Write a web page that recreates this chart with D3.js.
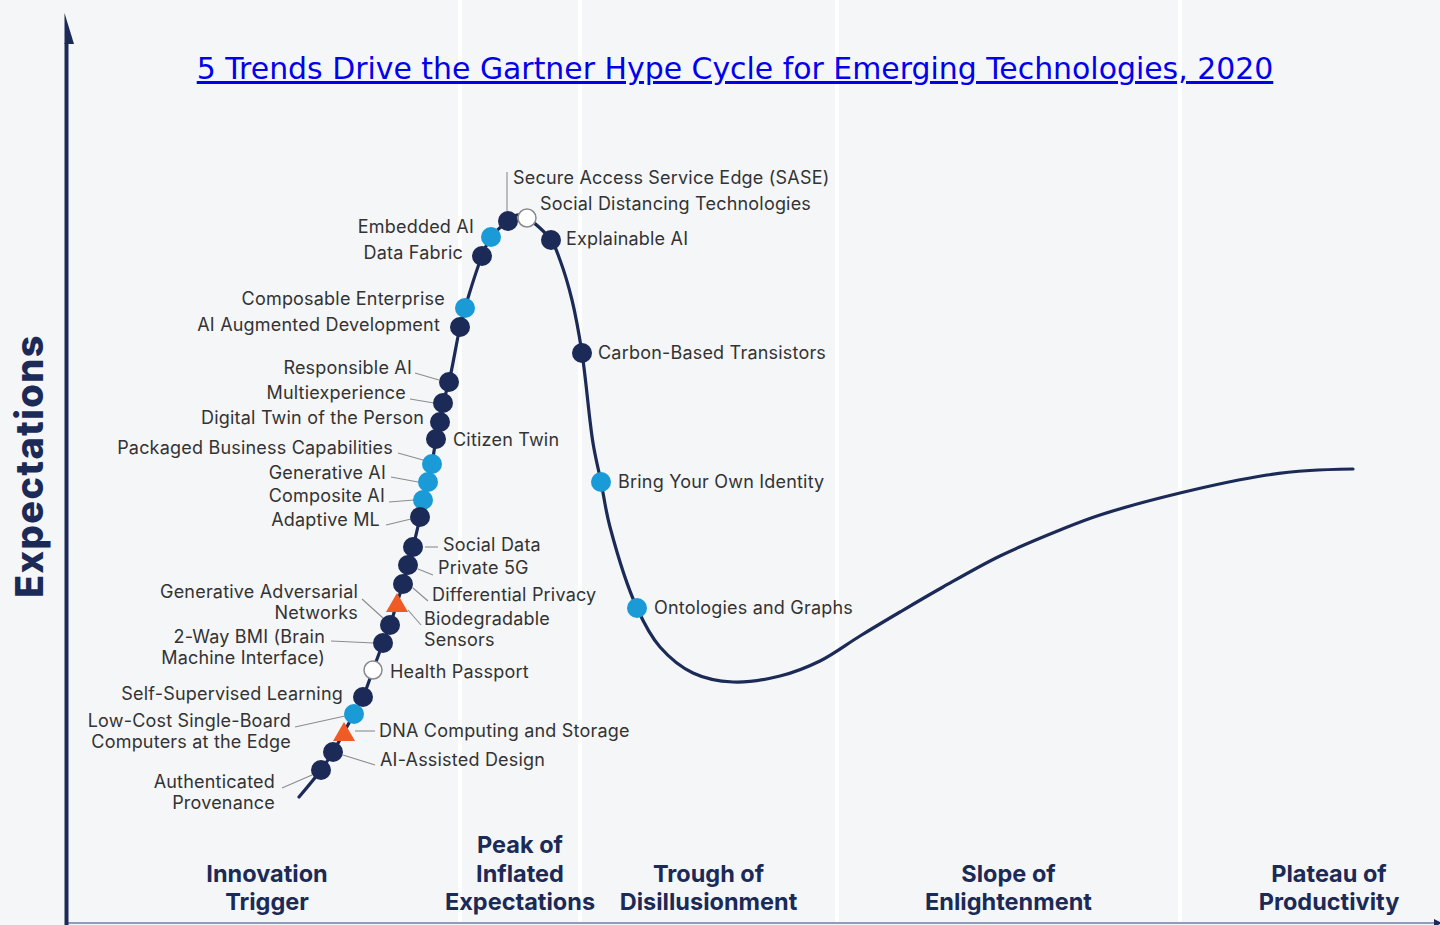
<!DOCTYPE html>
<html>
<head>
<meta charset="utf-8">
<script src="https://cdn.jsdelivr.net/npm/d3@7"></script>
<style>
html, body { margin: 0; padding: 0; background: #f5f6f8; }
svg { display: block; }
</style>
</head>
<body>
<svg id="chart" width="1440" height="925"></svg>
<script>
// hype curve, time vs expectations (arbitrary units)
const curveTime = [23.3, 25.5, 26.7, 27.8, 28.8, 29.7, 30.7, 31.7, 32.4, 33.1, 33.7, 34.2, 34.7, 35.4, 35.7, 36.2, 36.6, 37.0, 37.4, 37.7, 38.3, 39.4, 39.9, 41.6, 42.5, 44.2, 45.1, 46.1, 48.5, 49.4, 50.6, 51.6, 52.7, 53.5, 54.4, 57.1, 59.4, 62.7, 66.7, 71.4, 75.4, 79.4, 83.4, 87.7, 93.4, 99.4, 103.4, 111.4, 120.1, 124.4, 128.7]
const curveExpect = [12.6, 15.3, 17.1, 19.1, 20.9, 22.6, 25.3, 28.0, 29.8, 32.0, 33.9, 35.8, 37.6, 40.6, 42.3, 44.1, 45.9, 48.4, 50.1, 52.0, 54.1, 59.6, 61.5, 66.7, 68.6, 70.2, 70.8, 70.5, 68.3, 66.3, 62.3, 57.0, 48.0, 44.1, 39.6, 31.5, 27.6, 25.0, 24.1, 24.7, 26.2, 28.7, 31.1, 33.6, 36.7, 39.3, 40.8, 43.0, 44.8, 45.25, 45.4]

// technologies on the curve
const techNames = ['Secure Access Service Edge (SASE)', 'Social Distancing Technologies', 'Explainable AI', 'Embedded AI', 'Data Fabric', 'Composable Enterprise', 'AI Augmented Development', 'Carbon-Based Transistors', 'Responsible AI', 'Multiexperience', 'Digital Twin of the Person', 'Citizen Twin', 'Packaged Business Capabilities', 'Generative AI', 'Composite AI', 'Adaptive ML', 'Bring Your Own Identity', 'Social Data', 'Private 5G', 'Differential Privacy', 'Biodegradable Sensors', 'Generative Adversarial Networks', '2-Way BMI (Brain Machine Interface)', 'Health Passport', 'Self-Supervised Learning', 'Low-Cost Single-Board Computers at the Edge', 'DNA Computing and Storage', 'AI-Assisted Design', 'Authenticated Provenance', 'Ontologies and Graphs']
const techTime = [44.2, 46.1, 48.5, 42.5, 41.6, 39.9, 39.4, 51.6, 38.3, 37.7, 37.4, 37.0, 36.6, 36.2, 35.7, 35.4, 53.5, 34.7, 34.2, 33.7, 33.1, 32.4, 31.7, 30.7, 29.7, 28.8, 27.8, 26.7, 25.5, 57.1]
const techExpect = [70.2, 70.5, 68.3, 68.6, 66.7, 61.5, 59.6, 57.0, 54.1, 52.0, 50.1, 48.4, 45.9, 44.1, 42.3, 40.6, 44.1, 37.6, 35.8, 33.9, 32.0, 29.8, 28.0, 25.3, 22.6, 20.9, 19.1, 17.1, 15.3, 31.5]
// years to plateau class: 'a' dark, 'b' blue, 'c' white, 'd' triangle
const techKind = ['a', 'c', 'a', 'b', 'a', 'b', 'a', 'a', 'a', 'a', 'a', 'a', 'b', 'b', 'b', 'a', 'b', 'a', 'a', 'a', 'd', 'a', 'a', 'c', 'a', 'b', 'd', 'a', 'a', 'b']

const phaseNames = [['Innovation', 'Trigger'], ['Peak of', 'Inflated', 'Expectations'], ['Trough of', 'Disillusionment'], ['Slope of', 'Enlightenment'], ['Plateau of', 'Productivity']]
const phaseBounds = [0.8, 39.4, 51.4, 77.1, 111.4, 141.2]

const titleText = '5 Trends Drive the Gartner Hype Cycle for Emerging Technologies, 2020'

// label placement: anchor, offset from the marker, optional split lines and leader
const labelLayout = {
    'Secure Access Service Edge (SASE)': { a: 'start', dx: 5, dy: -43, lead: [-1, -10, -1, -49] },
    'Social Distancing Technologies': { a: 'start', dx: 13, dy: -14 },
    'Explainable AI': { a: 'start', dx: 15, dy: -1 },
    'Embedded AI': { a: 'end', dx: -17, dy: -10 },
    'Data Fabric': { a: 'end', dx: -19, dy: -3 },
    'Composable Enterprise': { a: 'end', dx: -20, dy: -9 },
    'AI Augmented Development': { a: 'end', dx: -20, dy: -2 },
    'Carbon-Based Transistors': { a: 'start', dx: 16, dy: 0 },
    'Responsible AI': { a: 'end', dx: -37, dy: -14, lead: [-34, -9, -10, -2] },
    'Multiexperience': { a: 'end', dx: -37, dy: -10, lead: [-33, -4, -9, 0] },
    'Digital Twin of the Person': { a: 'end', dx: -16, dy: -4 },
    'Citizen Twin': { a: 'start', dx: 17, dy: 1 },
    'Packaged Business Capabilities': { a: 'end', dx: -39, dy: -16, lead: [-34, -11, -9, -4] },
    'Generative AI': { a: 'end', dx: -42, dy: -9, lead: [-37, -5, -10, 0] },
    'Composite AI': { a: 'end', dx: -38, dy: -4, lead: [-34, 2, -9, 0] },
    'Adaptive ML': { a: 'end', dx: -40, dy: 3, lead: [-34, 8, -9, 2] },
    'Bring Your Own Identity': { a: 'start', dx: 17, dy: 0 },
    'Social Data': { a: 'start', dx: 30, dy: -2, lead: [12, 0, 25, 0] },
    'Private 5G': { a: 'start', dx: 30, dy: 3, lead: [10, 4, 25, 10] },
    'Differential Privacy': { a: 'start', dx: 29, dy: 11, lead: [10, 4, 25, 17] },
    'Biodegradable Sensors': { a: 'start', dx: 27, dy: 16, lines: ['Biodegradable', 'Sensors'], lead: [11, 7, 24, 22] },
    'Generative Adversarial Networks': { a: 'end', dx: -32, dy: -33, lines: ['Generative Adversarial', 'Networks'], lead: [-28, -26, -7, -7] },
    '2-Way BMI (Brain Machine Interface)': { a: 'end', dx: -58, dy: -6, lines: ['2-Way BMI (Brain', 'Machine Interface)'], lead: [-52, -2, -9, 0] },
    'Health Passport': { a: 'start', dx: 17, dy: 2 },
    'Self-Supervised Learning': { a: 'end', dx: -20, dy: -3 },
    'Low-Cost Single-Board Computers at the Edge': { a: 'end', dx: -63, dy: 7, lines: ['Low-Cost Single-Board', 'Computers at the Edge'], lead: [-59, 13, -9, 2] },
    'DNA Computing and Storage': { a: 'start', dx: 35, dy: -1, lead: [11, -1, 31, -1] },
    'AI-Assisted Design': { a: 'start', dx: 47, dy: 8, lead: [10, 3, 42, 13] },
    'Authenticated Provenance': { a: 'end', dx: -46, dy: 12, lines: ['Authenticated', 'Provenance'], lead: [-39, 18, -9, 5] },
    'Ontologies and Graphs': { a: 'start', dx: 17, dy: 0 }
}

const navy = '#1b2a56'
const kindFill = { a: navy, b: '#1a9bd7', c: '#ffffff', d: '#f05a24' }

const svg = d3.select('#chart')
const W = 1440, H = 925

const x = d3.scaleLinear().domain([0, 137]).range([66, 1436])
const y = d3.scaleLinear().domain([0, 90.8]).range([923, 15])

svg.append('rect')
    .attr('width', W)
    .attr('height', H)
    .attr('fill', '#f5f6f8')

// white phase separators
svg.selectAll('.sep')
    .data(phaseBounds.slice(1, -1))
    .enter()
    .append('rect')
    .attr('class', 'sep')
    .attr('x', d => x(d) - 2)
    .attr('y', 0)
    .attr('width', 4)
    .attr('height', y(0))
    .attr('fill', '#ffffff')

// title
svg.append('text')
    .attr('x', 735)
    .attr('y', 79)
    .attr('text-anchor', 'middle')
    .attr('font-family', 'DejaVu Sans')
    .attr('font-size', 29.9)
    .attr('fill', '#0000ee')
    .style('text-decoration', 'underline')
    .text(titleText)

// axes
svg.append('line')
    .attr('x1', x(0)).attr('x2', x(137))
    .attr('y1', y(0)).attr('y2', y(0))
    .attr('stroke', '#8e9bbb')
    .attr('stroke-width', 2)
svg.append('path')
    .attr('d', `M${x(137) - 2},${y(0) - 4}L${x(137) + 6},${y(0)}L${x(137) - 2},${y(0) + 4}Z`)
    .attr('fill', navy)
svg.append('line')
    .attr('x1', x(0) + 0.5).attr('x2', x(0) + 0.5)
    .attr('y1', y(88)).attr('y2', H)
    .attr('stroke', navy)
    .attr('stroke-width', 4)
svg.append('path')
    .attr('d', `M${x(0) - 1.5},${y(90.8) - 2}L${x(0) + 8},${y(88) + 1}L${x(0) - 1.5},${y(88) + 1}Z`)
    .attr('fill', navy)

svg.append('text')
    .attr('transform', 'translate(29,466) rotate(-90)')
    .attr('text-anchor', 'middle')
    .attr('dominant-baseline', 'central')
    .attr('font-family', 'Inter, Roboto, sans-serif')
    .attr('font-weight', 800)
    .attr('font-size', 38)
    .attr('letter-spacing', 1.4)
    .attr('fill', navy)
    .text('Expectations')

// phase labels
phaseNames.forEach((lines, i) => {
    let cx = (x(phaseBounds[i]) + x(phaseBounds[i + 1])) / 2
    let t = svg.append('text')
        .attr('text-anchor', 'middle')
        .attr('font-family', 'Inter, Roboto, sans-serif')
        .attr('font-weight', 700)
        .attr('font-size', 23.5)
        .attr('fill', navy)
    lines.forEach((l, j) => {
        t.append('tspan')
            .attr('x', cx)
            .attr('y', 910 - (lines.length - 1 - j) * 28.5)
            .text(l)
    })
})

// curve
const pts = curveTime.map((t, i) => [t, curveExpect[i]])
svg.append('path')
    .datum(pts)
    .attr('fill', 'none')
    .attr('stroke', navy)
    .attr('stroke-width', 3.2)
    .attr('stroke-linecap', 'round')
    .attr('d', d3.line()
        .x(d => x(d[0]))
        .y(d => y(d[1]))
        .curve(d3.curveCatmullRom.alpha(0.5)))

const techs = techNames.map((n, i) => ({ name: n, t: techTime[i], e: techExpect[i], kind: techKind[i] }))

// leader lines
svg.selectAll('.lead')
    .data(techs.filter(d => labelLayout[d.name].lead))
    .enter()
    .append('line')
    .attr('class', 'lead')
    .attr('x1', d => x(d.t) + labelLayout[d.name].lead[0])
    .attr('y1', d => y(d.e) + labelLayout[d.name].lead[1])
    .attr('x2', d => x(d.t) + labelLayout[d.name].lead[2])
    .attr('y2', d => y(d.e) + labelLayout[d.name].lead[3])
    .attr('stroke', '#8c8c8c')
    .attr('stroke-width', 1.1)

// markers
techs.forEach(d => {
    let cx = x(d.t), cy = y(d.e)
    if (d.kind == 'd') {
        svg.append('path')
            .attr('d', `M${cx},${cy - 10}L${cx + 11},${cy + 9}L${cx - 11},${cy + 9}Z`)
            .attr('fill', kindFill.d)
    } else {
        svg.append('circle')
            .attr('cx', cx)
            .attr('cy', cy)
            .attr('r', d.kind == 'c' ? 9 : 10)
            .attr('fill', kindFill[d.kind])
            .attr('stroke', d.kind == 'c' ? '#8a8a8a' : 'none')
            .attr('stroke-width', 1.5)
    }
})

// labels
techs.forEach(d => {
    let lay = labelLayout[d.name]
    let lines = lay.lines || [d.name]
    let t = svg.append('text')
        .attr('text-anchor', lay.a)
        .attr('font-family', 'Inter, Roboto, sans-serif')
        .attr('font-size', 18)
        .attr('letter-spacing', 0.2)
        .attr('fill', '#333333')
    lines.forEach((l, j) => {
        t.append('tspan')
            .attr('x', x(d.t) + lay.dx)
            .attr('y', y(d.e) + lay.dy + j * 20.5)
            .attr('dy', '0.35em')
            .text(l)
    })
})
</script>
</body>
</html>
